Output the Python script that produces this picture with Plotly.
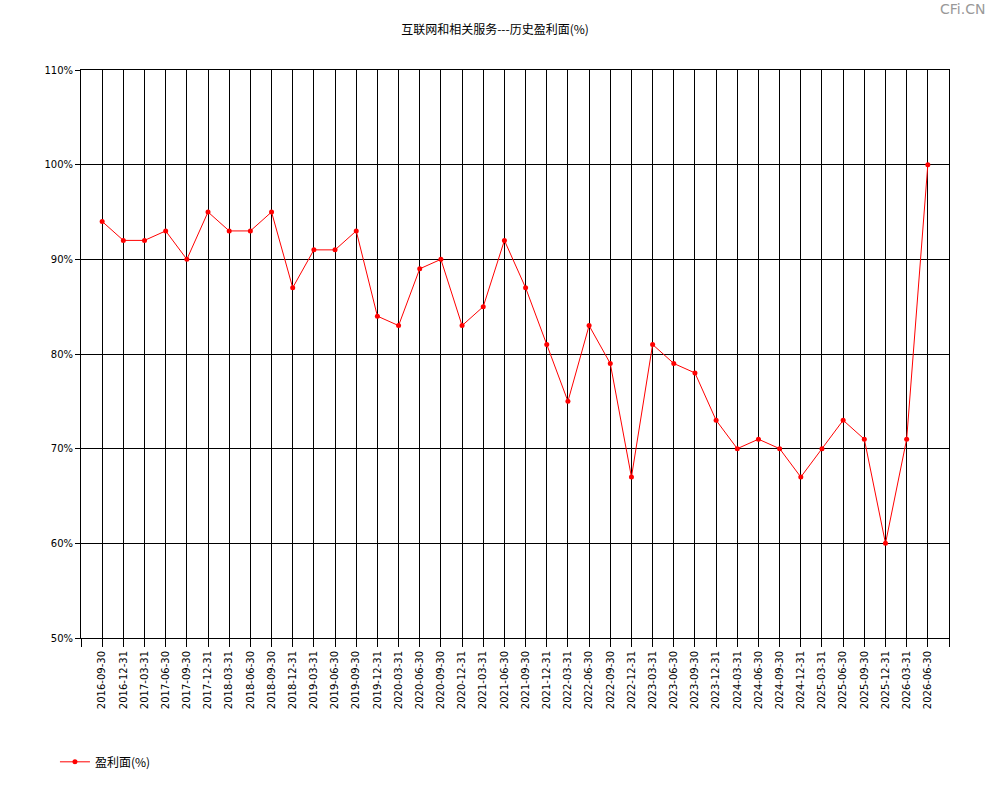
import plotly.graph_objects as go

# 报告期
dates = [
    '2016-09-30', '2016-12-31', '2017-03-31', '2017-06-30', '2017-09-30',
    '2017-12-31', '2018-03-31', '2018-06-30', '2018-09-30', '2018-12-31',
    '2019-03-31', '2019-06-30', '2019-09-30', '2019-12-31', '2020-03-31',
    '2020-06-30', '2020-09-30', '2020-12-31', '2021-03-31', '2021-06-30',
    '2021-09-30', '2021-12-31', '2022-03-31', '2022-06-30', '2022-09-30',
    '2022-12-31', '2023-03-31', '2023-06-30', '2023-09-30', '2023-12-31',
    '2024-03-31', '2024-06-30', '2024-09-30', '2024-12-31', '2025-03-31',
    '2025-06-30', '2025-09-30', '2025-12-31', '2026-03-31', '2026-06-30',
]

# 盈利面(%)
profit_share = [
    94, 92, 92, 93, 90, 95, 93, 93, 95, 87,
    91, 91, 93, 84, 83, 89, 90, 83, 85, 92,
    87, 81, 75, 83, 79, 67, 81, 79, 78, 73,
    70, 71, 70, 67, 70, 73, 71, 60, 71, 100,
]

y_ticks = [50, 60, 70, 80, 90, 100, 110]

idx = list(range(len(dates)))
font = 'Noto Sans CJK SC, DejaVu Sans, sans-serif'

fig = go.Figure()
fig.add_trace(go.Scatter(
    x=idx,
    y=profit_share,
    mode='lines+markers',
    name='盈利面(%)',
    line=dict(color='#ff0000', width=1),
    marker=dict(color='#ff0000', size=5),
))

fig.update_layout(
    width=990,
    height=800,
    paper_bgcolor='white',
    plot_bgcolor='white',
    margin=dict(l=81, r=41, t=70, b=162),
    font=dict(family=font, size=11, color='black'),
    title=dict(text='互联网和相关服务---历史盈利面(%)', x=0.5, xanchor='center',
               y=0.963, yanchor='middle', font=dict(size=12, color='black')),
    showlegend=True,
    legend=dict(orientation='h', x=-0.03, xanchor='left', y=-0.218, yanchor='middle',
                font=dict(size=12), bgcolor='rgba(0,0,0,0)'),
    annotations=[dict(text='CFi.CN', xref='paper', yref='paper', x=1.044, y=1.107,
                      xanchor='right', yanchor='middle', showarrow=False,
                      font=dict(size=14, color='#999999', family='DejaVu Sans'))],
)

fig.update_xaxes(
    range=[-1, len(dates)],
    tickmode='array',
    tickvals=[-1] + idx + [len(dates)],
    ticktext=[''] + dates + [''],
    tickangle=-90,
    ticks='outside', ticklen=8, tickcolor='black', tickwidth=1,
    showgrid=True, gridcolor='black', gridwidth=1,
    showline=True, linecolor='black', linewidth=1, mirror=True,
    zeroline=False,
    tickfont=dict(size=10, family='DejaVu Sans'),
)
fig.update_yaxes(
    range=[50, 110],
    tickmode='array',
    tickvals=y_ticks,
    ticktext=[f'{v}%' for v in y_ticks],
    ticks='outside', ticklen=5, tickcolor='black', tickwidth=1,
    showgrid=True, gridcolor='black', gridwidth=1,
    showline=True, linecolor='black', linewidth=1, mirror=True,
    zeroline=False,
    tickfont=dict(size=10, family='DejaVu Sans'),
)

fig.write_html('out.html', config={'displayModeBar': False},
               post_script="document.body.style.margin='0';")
